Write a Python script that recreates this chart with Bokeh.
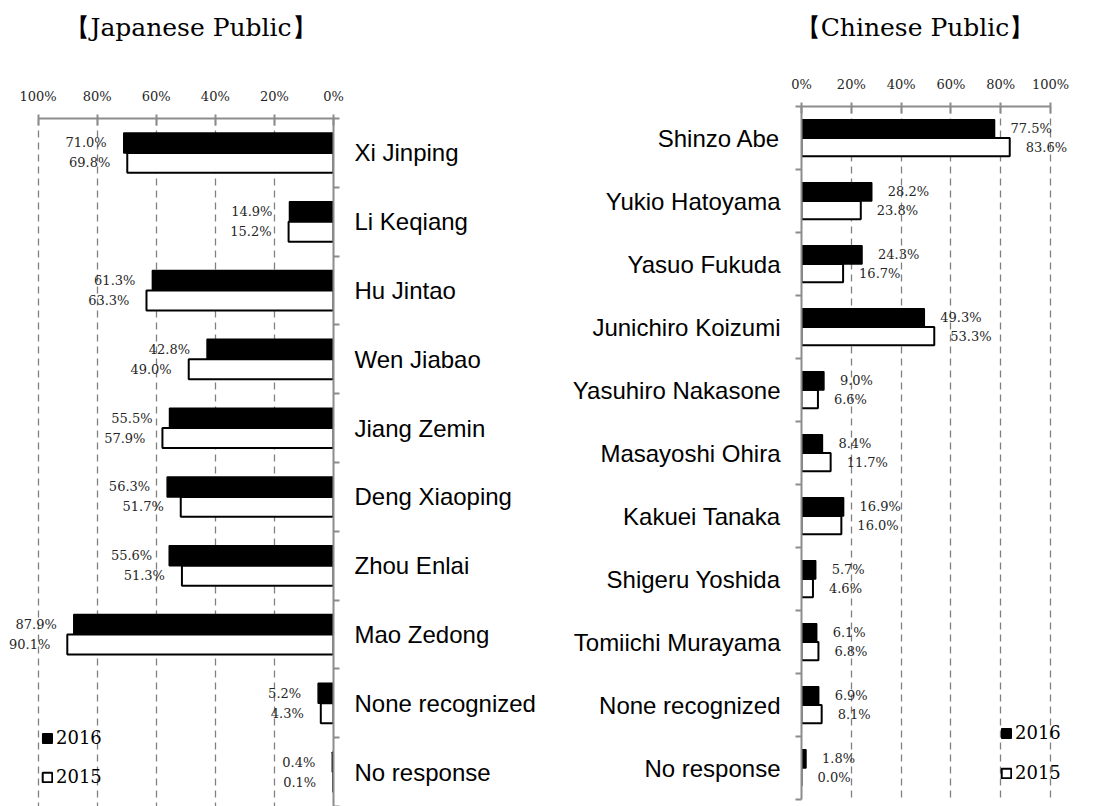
import numpy as np
from bokeh.plotting import figure
from bokeh.models import (Range1d, FixedTicker, PrintfTickFormatter, ColumnDataSource,
                          Legend, LegendItem, Div)
from bokeh.layouts import row, column
from bokeh.embed import file_html
from bokeh.resources import INLINE
from bokeh.core.properties import value

# ---------------- data ----------------
jp_names = ["Xi Jinping", "Li Keqiang", "Hu Jintao", "Wen Jiabao", "Jiang Zemin",
            "Deng Xiaoping", "Zhou Enlai", "Mao Zedong", "None recognized", "No response"]
jp_2016 = [71.0, 14.9, 61.3, 42.8, 55.5, 56.3, 55.6, 87.9, 5.2, 0.4]
jp_2015 = [69.8, 15.2, 63.3, 49.0, 57.9, 51.7, 51.3, 90.1, 4.3, 0.1]

cn_names = ["Shinzo Abe", "Yukio Hatoyama", "Yasuo Fukuda", "Junichiro Koizumi",
            "Yasuhiro Nakasone", "Masayoshi Ohira", "Kakuei Tanaka", "Shigeru Yoshida",
            "Tomiichi Murayama", "None recognized", "No response"]
cn_2016 = [77.5, 28.2, 24.3, 49.3, 9.0, 8.4, 16.9, 5.7, 6.1, 6.9, 1.8]
cn_2015 = [83.6, 23.8, 16.7, 53.3, 6.6, 11.7, 16.0, 4.6, 6.8, 8.1, 0.0]

pct_ticks = [0, 20, 40, 60, 80, 100]
years = ["2016", "2015"]
titles = ["\u3010Japanese Public\u3011", "\u3010Chinese Public\u3011"]

SERIF = "DejaVu Serif"
SANS = "Liberation Sans"
AXIS_GRAY = "#8c8c8c"
GRID_GRAY = "#808080"
BAR_H = 0.29
X_MAX = 110  # extra room beyond 100% for labels / legend
TITLE_H = 56


def make_title(text, center_x):
    w = 320
    return Div(text=text, width=w, height=TITLE_H,
               margin=(0, 0, 0, center_x - w // 2),
               styles={"font-family": "'DejaVu Serif', serif", "font-size": "25px",
                       "line-height": f"{TITLE_H}px", "text-align": "center",
                       "color": "black", "white-space": "nowrap"})


def make_panel(names, v16, v15, mirrored, width, height, mb_left, mb_right,
               mb_top, mb_bottom, legend_loc, legend_spacing):
    n = len(names)
    idx = np.arange(n)
    xr = Range1d(X_MAX, 0) if mirrored else Range1d(0, X_MAX)
    yr = Range1d(n - 0.5, -0.5)
    p = figure(width=width, height=height, x_range=xr, y_range=yr,
               x_axis_location="above", y_axis_location="right" if mirrored else "left",
               output_backend="svg", toolbar_location=None,
               min_border_left=mb_left, min_border_right=mb_right,
               min_border_top=mb_top, min_border_bottom=mb_bottom)
    p.outline_line_color = None
    p.background_fill_color = "white"
    p.border_fill_color = "white"

    # grid
    p.ygrid.visible = False
    p.xgrid.ticker = FixedTicker(ticks=pct_ticks[1:])
    p.xgrid.grid_line_color = GRID_GRAY
    p.xgrid.grid_line_dash = "7 5"
    p.xgrid.grid_line_width = 1.3

    # percent axis (top)
    xa = p.xaxis[0]
    xa.bounds = (pct_ticks[0], pct_ticks[-1])
    xa.ticker = FixedTicker(ticks=pct_ticks)
    xa.formatter = PrintfTickFormatter(format="%d%%")
    xa.axis_line_color = AXIS_GRAY
    xa.axis_line_width = 2
    xa.major_tick_line_color = AXIS_GRAY
    xa.major_tick_line_width = 2
    xa.major_tick_in = 7
    xa.major_tick_out = 4
    xa.minor_tick_line_color = None
    xa.major_label_text_font = SERIF
    xa.major_label_text_font_size = "13px"
    xa.major_label_text_color = "#262626"
    xa.major_label_standoff = 11

    # category axis
    ya = p.yaxis[0]
    ya.ticker = FixedTicker(ticks=list(idx), minor_ticks=list(np.arange(n + 1) - 0.5))
    ya.major_label_overrides = {int(i): nm for i, nm in zip(idx, names)}
    ya.axis_line_color = AXIS_GRAY
    ya.axis_line_width = 2
    ya.major_tick_in = 0
    ya.major_tick_out = 0
    ya.major_tick_line_color = None
    ya.minor_tick_line_color = AXIS_GRAY
    ya.minor_tick_line_width = 2
    ya.minor_tick_in = 0
    ya.minor_tick_out = 6
    ya.major_label_text_font = SANS
    ya.major_label_text_font_size = "24px"
    ya.major_label_text_color = "black"
    ya.major_label_standoff = 15

    src16 = ColumnDataSource(dict(y=idx - BAR_H / 2, v=v16,
                                  lbl=[f"{v:.1f}%" for v in v16]))
    src15 = ColumnDataSource(dict(y=idx + BAR_H / 2, v=v15,
                                  lbl=[f"{v:.1f}%" for v in v15]))
    r16 = p.hbar(y="y", left=0, right="v", height=BAR_H, source=src16,
                 fill_color="black", line_color="black", line_width=1.5)
    r15 = p.hbar(y="y", left=0, right="v", height=BAR_H, source=src15,
                 fill_color="white", line_color="black", line_width=2)

    off = -17 if mirrored else 16
    align = "right" if mirrored else "left"
    for src in (src16, src15):
        p.text(x="v", y="y", text="lbl", source=src, x_offset=off,
               text_align=align, text_baseline="middle",
               text_font=value(SERIF), text_font_size="13px", text_color="#262626")

    legend = Legend(items=[LegendItem(label=years[0], renderers=[r16]),
                           LegendItem(label=years[1], renderers=[r15])],
                    location=legend_loc, orientation="vertical",
                    background_fill_alpha=0, border_line_color=None,
                    padding=0, margin=0, spacing=legend_spacing,
                    glyph_width=12, glyph_height=12, label_standoff=3,
                    label_height=20, label_text_font=SERIF,
                    label_text_font_size="18px", label_text_color="black")
    p.add_layout(legend)
    return p


left = make_panel(jp_names, jp_2016, jp_2015, True,
                  width=548, height=806 - TITLE_H, mb_left=8, mb_right=215,
                  mb_top=118 - TITLE_H, mb_bottom=0, legend_loc=(33, 19),
                  legend_spacing=18)
right = make_panel(cn_names, cn_2016, cn_2015, False,
                   width=545, height=806 - TITLE_H, mb_left=253, mb_right=18,
                   mb_top=106 - TITLE_H, mb_bottom=7, legend_loc=(199, 16),
                   legend_spacing=19)

layout = row(column(make_title(titles[0], 191), left, spacing=0),
             column(make_title(titles[1], 367), right, spacing=0),
             spacing=0)
open("out.html", "w").write(file_html(layout, INLINE))
